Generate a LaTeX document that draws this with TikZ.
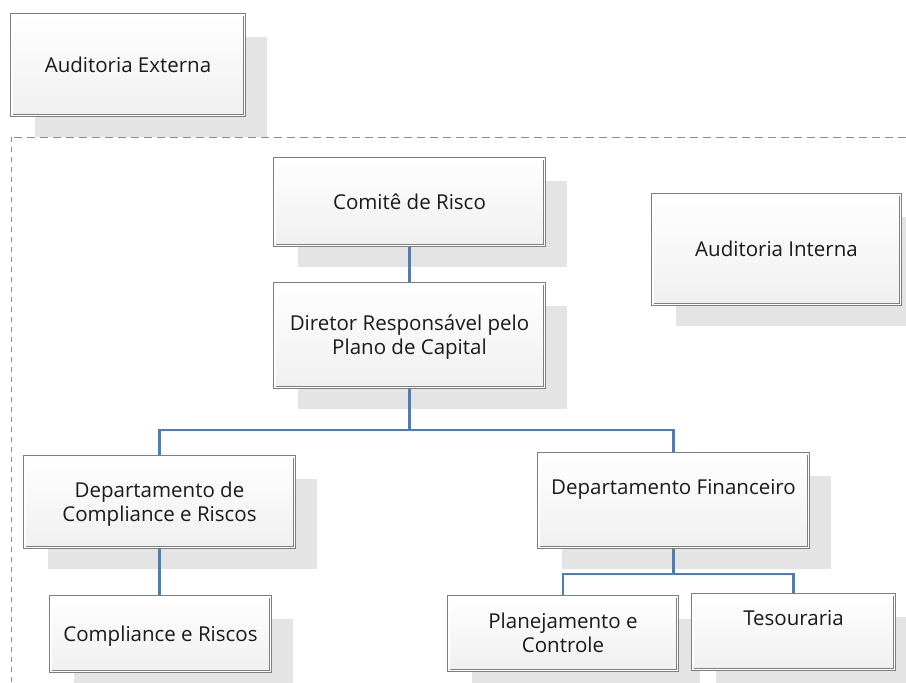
\documentclass[tikz,border=0pt]{standalone}
\usepackage{fontspec}
\setmainfont{Open Sans}
\usetikzlibrary{shadows}
\definecolor{boxline}{HTML}{7F7F7F}
\definecolor{shadowgray}{HTML}{E4E4E4}
\definecolor{linkblue}{HTML}{4A7EB5}
\definecolor{dashgray}{HTML}{8C8C8C}
\definecolor{txt}{HTML}{1A1A1A}
\begin{document}
\begin{tikzpicture}[x=1pt,y=-1pt,
  orgbox/.style={draw=boxline, line width=0.7pt, double=white, double distance=1.8pt,
    top color=white, bottom color=black!6,
    general shadow={fill=shadowgray, shadow xshift=23pt, shadow yshift=-22pt},
    inner sep=0pt, outer sep=1.6pt, align=center,
    font=\fontsize{20.5}{24}\selectfont, text=txt, text height=14.5pt, text depth=0pt},
  twoline/.style={text height=38.5pt, text depth=0pt},
  link/.style={draw=linkblue, line width=2.2pt},
  frame/.style={draw=dashgray, line width=1pt}]
\useasboundingbox (0,0) rectangle (906,683);

\node[orgbox, minimum width=232.8pt, minimum height=100.8pt] (ae) at (128,65) {Auditoria Externa};
\node[orgbox, minimum width=269.8pt, minimum height=86.8pt] (cr) at (409.5,202) {Comitê de Risco};
\node[orgbox, twoline, minimum width=269.8pt, minimum height=103.8pt] (dr) at (409.5,335.5) {Diretor Responsável pelo\\Plano de Capital};
\node[orgbox, minimum width=247.8pt, minimum height=109.8pt] (ai) at (776.5,249.5) {Auditoria Interna};
\node[orgbox, twoline, minimum width=269.8pt, minimum height=90.8pt] (dc) at (159.5,502) {Departamento de\\Compliance e Riscos};
\node[orgbox, text depth=27.5pt, minimum width=269.8pt, minimum height=93.8pt] (df) at (673.5,500.5) {Departamento Financeiro};
\node[orgbox, minimum width=219.8pt, minimum height=74.8pt] (crs) at (160.5,634) {Compliance e Riscos};
\node[orgbox, twoline, minimum width=228.8pt, minimum height=73.8pt] (pc) at (563,633.5) {Planejamento e\\Controle};
\node[orgbox, text depth=28.5pt, minimum width=201.8pt, minimum height=74.8pt] (ts) at (793.5,632) {Tesouraria};

\coordinate (j1) at (409.5,430);
\coordinate (j2) at (673.5,574);
\draw[link] (cr.south) -- (dr.north);
\draw[link] (dr.south) -- (j1);
\draw[link] (dc.north) |- (j1) -| (df.north);
\draw[link] (dc.south) -- (dc.south |- crs.north);
\draw[link] (df.south) -- (j2);
\draw[link] (pc.north) |- (j2) -| (ts.north);

\coordinate (fa) at (906,137);
\coordinate (fb) at (11,137);
\coordinate (fc) at (11,683);
\draw[frame, dash pattern=on 8pt off 5pt] (fa) -- (fb);
\draw[frame, dash pattern=on 5pt off 5pt] (fb) -- (fc);
\end{tikzpicture}
\end{document}
